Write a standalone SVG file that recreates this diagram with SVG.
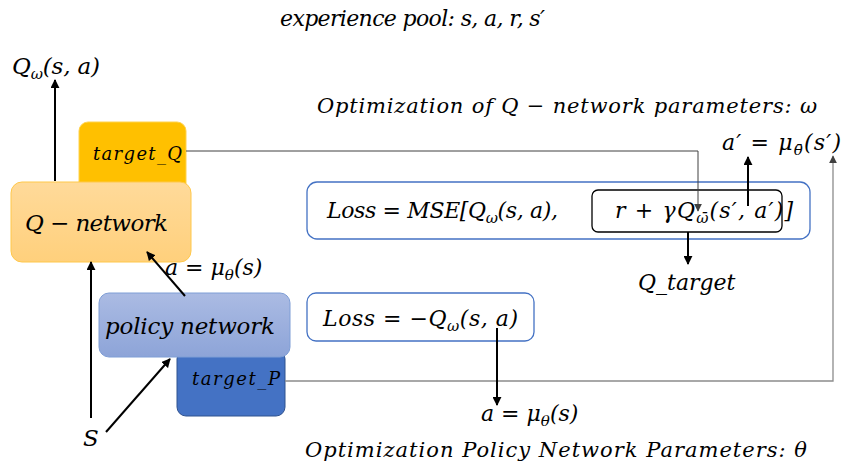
<svg xmlns="http://www.w3.org/2000/svg" width="844" height="471" viewBox="0 0 844 471">
<style>
.t{font-family:"DejaVu Serif","Liberation Serif",serif;font-style:italic;fill:#000}
.sub{font-size:15px}
.thick{stroke:#000;stroke-width:2;fill:none}
.thin{stroke:#404040;stroke-width:1;fill:none}
</style>
<defs>
<marker id="ah" viewBox="0 0 10 10" refX="9" refY="5" markerWidth="9" markerHeight="9" markerUnits="userSpaceOnUse" orient="auto"><path d="M0,0 L10,5 L0,10 z" fill="#000"/></marker>
<marker id="ahs" viewBox="0 0 10 10" refX="9" refY="5" markerWidth="8" markerHeight="8" markerUnits="userSpaceOnUse" orient="auto"><path d="M0,0 L10,5 L0,10 z" fill="#404040"/></marker>
<linearGradient id="gq" x1="0" y1="0" x2="0" y2="1"><stop offset="0" stop-color="#FFDA9A"/><stop offset="1" stop-color="#FFD07C"/></linearGradient>
<linearGradient id="gp" x1="0" y1="0" x2="0" y2="1"><stop offset="0" stop-color="#ABBBE3"/><stop offset="1" stop-color="#8DA4D8"/></linearGradient>
</defs>
<rect width="844" height="471" fill="#fff"/>

<g id="target_Q">
<rect x="79" y="122" width="107" height="72" rx="9" fill="#FFC000" stroke="#FFD24D" stroke-width="1"/>
<text class="t" x="93" y="160" font-size="18" textLength="89">target_Q</text>
</g>
<g id="q_network">
<rect x="11" y="182" width="180" height="80" rx="11" fill="url(#gq)" stroke="#FFC84A" stroke-width="1"/>
<text class="t" x="25" y="231" font-size="23" textLength="143">Q − network</text>
</g>
<g id="target_P">
<rect x="177" y="350" width="108" height="66" rx="9" fill="#4472C4" stroke="#2F528F" stroke-width="1"/>
<text class="t" x="192" y="385" font-size="18" textLength="88">target_P</text>
</g>
<g id="policy_network">
<rect x="99" y="293" width="191" height="64" rx="10" fill="url(#gp)" stroke="#7F9ED6" stroke-width="1"/>
<text class="t" x="105" y="334" font-size="23" textLength="170">policy network</text>
</g>
<g id="loss_q">
<rect x="307" y="182" width="503" height="57" rx="10" fill="none" stroke="#4472C4" stroke-width="1.3"/>
<rect x="592" y="190" width="190" height="42" rx="6" fill="none" stroke="#000" stroke-width="1.3"/>
<text class="t" x="327" y="218" font-size="22" textLength="231">Loss = MSE[Q<tspan class="sub" dy="5">ω</tspan><tspan dy="-5">(s, a),</tspan></text>
<text class="t" x="615" y="218" font-size="22" textLength="178">r + γQ<tspan class="sub" dy="5">ω̄</tspan><tspan dy="-5">(s′, a′)]</tspan></text>
</g>
<g id="loss_p">
<rect x="307" y="293" width="227" height="48" rx="9" fill="none" stroke="#4472C4" stroke-width="1.3"/>
<text class="t" x="323" y="326" font-size="22" textLength="195">Loss = −Q<tspan class="sub" dy="5">ω</tspan><tspan dy="-5">(s, a)</tspan></text>
</g>

<g id="labels">
<text class="t" x="280" y="26" font-size="22" textLength="265">experience pool: s, a, r, s′</text>
<text class="t" x="12" y="74" font-size="23" textLength="88">Q<tspan class="sub" dy="5">ω</tspan><tspan dy="-5">(s, a)</tspan></text>
<text class="t" x="317" y="113" font-size="21" textLength="500">Optimization of Q − network parameters: ω</text>
<text class="t" x="722" y="150" font-size="22" textLength="119">a′ = μ<tspan class="sub" dy="5">θ̄</tspan><tspan dy="-5">(s′)</tspan></text>
<text class="t" x="638" y="290" font-size="22">Q_target</text>
<text class="t" x="165" y="275" font-size="22">a = μ<tspan class="sub" dy="5">θ</tspan><tspan dy="-5">(s)</tspan></text>
<text class="t" x="481" y="421" font-size="22">a = μ<tspan class="sub" dy="5">θ</tspan><tspan dy="-5">(s)</tspan></text>
<text class="t" x="83" y="446" font-size="23">S</text>
<text class="t" x="305" y="457" font-size="21" textLength="502">Optimization Policy Network Parameters: θ</text>
</g>

<g id="connectors">
<line class="thick" x1="55" y1="181" x2="55" y2="80" marker-end="url(#ah)"/>
<line class="thick" x1="91" y1="418" x2="91" y2="262" marker-end="url(#ah)"/>
<line class="thick" x1="185" y1="296" x2="147" y2="252" marker-end="url(#ah)"/>
<line class="thick" x1="106" y1="432" x2="170" y2="359" marker-end="url(#ah)"/>
<polyline class="thin" points="186,151 698,151 698,211" marker-end="url(#ahs)"/>
<polyline points="285,381 833,381 833,156" fill="none" stroke="#8C8C8C" stroke-width="1.3" marker-end="url(#ahs)"/>
<line class="thick" x1="748" y1="206" x2="748" y2="157" marker-end="url(#ah)"/>
<line class="thick" x1="688" y1="232" x2="688" y2="264" marker-end="url(#ah)"/>
<line class="thick" x1="497" y1="328" x2="497" y2="405" marker-end="url(#ah)"/>
</g>
</svg>
